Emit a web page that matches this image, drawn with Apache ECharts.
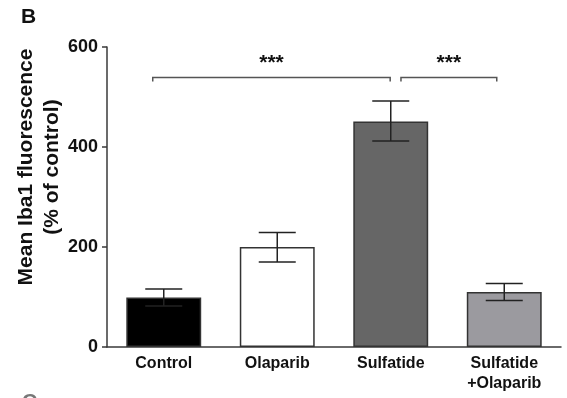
<!DOCTYPE html>
<html>
<head>
<meta charset="utf-8">
<script src="https://cdn.jsdelivr.net/npm/echarts@6/dist/echarts.min.js"></script>
<style>
  html, body { margin: 0; padding: 0; background: #fff; }
  #chart { width: 567px; height: 398px; }
</style>
</head>
<body>
<div id="chart"></div>
<script>
// data
var categories = ['Control', 'Olaparib', 'Sulfatide', 'Sulfatide\n+Olaparib'];
var means = [99, 200, 451, 110];
var errHigh = [116, 229, 492, 127];
var errLow = [82, 170, 412, 93];
var barColors = ['#000000', '#ffffff', '#666666', '#9b9a9f'];
var yTicks = [0, 200, 400, 600];
// significance brackets: from category, to category, height, label
var bracketFrom = [0, 2];
var bracketTo = [2, 3];
var bracketLevel = [539, 539];
var bracketText = ['***', '***'];

var font = 'Arial, "Liberation Sans", sans-serif';
var axisColor = '#3a3a3a';

var chart = echarts.init(document.getElementById('chart'));

var barData = [];
var errData = [];
for (var i = 0; i < categories.length; i++) {
    barData.push({
        value: means[i],
        itemStyle: { color: barColors[i] }
    });
    errData.push([i, errLow[i], errHigh[i]]);
}

var brData = [];
for (var j = 0; j < bracketFrom.length; j++) {
    brData.push([bracketFrom[j], bracketTo[j], bracketLevel[j]]);
}
// small shifts of bracket ends, as fraction of a category band
var brShift = [[-0.097, -0.005], [0.09, -0.066]];

var option = {
    animation: false,
    textStyle: { fontFamily: font },
    grid: { left: 107, right: 6, top: 47, bottom: 51, outerBoundsMode: 'none' },
    graphic: [
        { type: 'text', left: 21, top: 7, style: { text: 'B', font: 'bold 21px ' + font, fill: '#111' } },
        { type: 'text', left: 22, top: 392, style: { text: 'C', font: 'bold 21px ' + font, fill: '#777' } }
    ],
    xAxis: {
        type: 'category',
        data: categories,
        axisLine: { lineStyle: { color: axisColor, width: 1.5 } },
        axisTick: { alignWithLabel: true, length: 5, lineStyle: { color: axisColor, width: 1.5 } },
        axisLabel: {
            color: '#111', fontWeight: 'bold', fontSize: 16, lineHeight: 20,
            margin: 7, interval: 0, fontFamily: font
        }
    },
    yAxis: {
        type: 'value',
        min: 0, max: 600, interval: 200,
        name: 'Mean Iba1 fluorescence\n(% of control)',
        nameLocation: 'middle',
        nameGap: 42,
        nameMoveOverlap: false,
        nameTextStyle: {
            color: '#111', fontWeight: 'bold', fontSize: 21, lineHeight: 26,
            fontFamily: font, padding: [0, 0, 0, 60]
        },
        splitLine: { show: false },
        axisLine: { show: true, lineStyle: { color: axisColor, width: 1.5 } },
        axisTick: { show: true, length: 5, lineStyle: { color: axisColor, width: 1.5 } },
        axisLabel: {
            color: '#111', fontWeight: 'bold', fontSize: 18, margin: 9, fontFamily: font,
            formatter: function (v) { return yTicks.indexOf(v) >= 0 ? String(v) : ''; }
        }
    },
    series: [
        {
            type: 'bar',
            data: barData,
            barWidth: '66%',
            itemStyle: { borderColor: '#333', borderWidth: 1.5 },
            z: 2
        },
        {
            type: 'custom',
            data: errData,
            encode: { x: 0, y: [1, 2] },
            z: 5,
            renderItem: function (params, api) {
                var idx = api.value(0);
                var top = api.coord([idx, api.value(2)]);
                var bot = api.coord([idx, api.value(1)]);
                var half = api.size([1, 0])[0] * 0.163;
                var st = { stroke: '#222', lineWidth: 1.5 };
                return {
                    type: 'group',
                    children: [
                        { type: 'line', shape: { x1: top[0], y1: top[1], x2: bot[0], y2: bot[1] }, style: st },
                        { type: 'line', shape: { x1: top[0] - half, y1: top[1], x2: top[0] + half, y2: top[1] }, style: st },
                        { type: 'line', shape: { x1: bot[0] - half, y1: bot[1], x2: bot[0] + half, y2: bot[1] }, style: st }
                    ]
                };
            }
        },
        {
            type: 'custom',
            data: brData,
            encode: { x: [0, 1], y: 2 },
            z: 5,
            renderItem: function (params, api) {
                var band = api.size([1, 0])[0];
                var sh = brShift[params.dataIndex];
                var a = api.coord([api.value(0), api.value(2)]);
                var b = api.coord([api.value(1), api.value(2)]);
                var x1 = a[0] + sh[0] * band;
                var x2 = b[0] + sh[1] * band;
                var y = a[1];
                var st = { stroke: '#555', lineWidth: 1.5, fill: null };
                return {
                    type: 'group',
                    children: [
                        { type: 'polyline', shape: { points: [[x1, y + 4], [x1, y], [x2, y], [x2, y + 4]] }, style: st },
                        {
                            type: 'text',
                            x: (x1 + x2) / 2, y: y - 14,
                            style: {
                                text: bracketText[params.dataIndex], font: 'bold 21px ' + font,
                                fill: '#111', align: 'center', verticalAlign: 'middle'
                            }
                        }
                    ]
                };
            }
        }
    ]
};

chart.setOption(option);
</script>
</body>
</html>
